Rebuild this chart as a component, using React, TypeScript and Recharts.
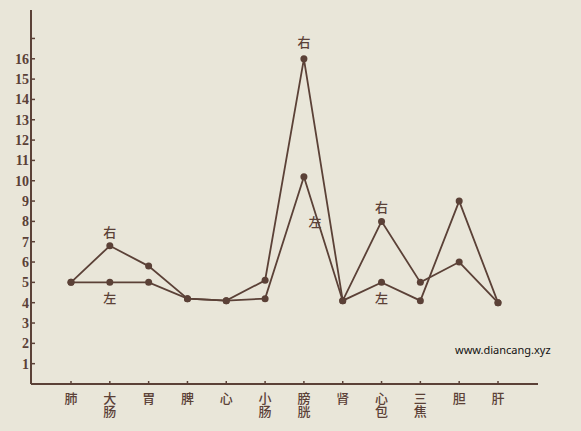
import React from 'react';
import { LineChart, Line, XAxis, YAxis } from 'recharts';

const categories = ['肺', '大肠', '胃', '脾', '心', '小肠', '膀胱', '肾', '心包', '三焦', '胆', '肝'];
const rightValues = [5, 6.8, 5.8, 4.2, 4.1, 5.1, 16, 4.1, 8, 5, 6, 4];
const leftValues = [5, 5, 5, 4.2, 4.1, 4.2, 10.2, 4.1, 5, 4.1, 9, 4];
const yTicks = [1, 2, 3, 4, 5, 6, 7, 8, 9, 10, 11, 12, 13, 14, 15, 16, 17];
const yLabelMax = 16;
const markedCategories = ['大肠', '膀胱', '心包'];

const data = categories.map((name, i) => ({ name, right: rightValues[i], left: leftValues[i] }));

const INK = '#5b4137';
const AXIS_X = 31;
const SERIF = '"Liberation Serif", "DejaVu Serif", serif';
const CJK = '"Noto Sans CJK SC", sans-serif';

function YTick(props: any) {
  const { y, payload } = props;
  return (
    <g>
      <line x1={AXIS_X} x2={AXIS_X + 4} y1={y} y2={y} stroke={INK} strokeWidth={1.5} />
      {payload.value <= yLabelMax && (
        <text x={AXIS_X - 2} y={y} dy='0.36em' textAnchor='end' fill={INK}
          style={{ fontFamily: SERIF, fontSize: 14, fontWeight: 700 }}>
          {payload.value}
        </text>
      )}
    </g>
  );
}

// category names run top to bottom, as in the printed figure
function XTick(props: any) {
  const { x, y, payload } = props;
  return (
    <g>
      <line x1={x} x2={x} y1={y - 3} y2={y} stroke={INK} strokeWidth={1.5} />
      <text x={x} y={y + 8} textAnchor='start' fill={INK}
        style={{ fontFamily: CJK, fontSize: 13, fontWeight: 500, writingMode: 'vertical-rl' }}>
        {payload.value}
      </text>
    </g>
  );
}

function sideLabel(text: string, below: boolean) {
  return (props: any) => {
    const { x, y, index } = props;
    const name = categories[index];
    if (!markedCategories.includes(name)) return null;
    let dx = 0;
    let dy = below ? 21 : -9;
    if (below && name === '膀胱') { dx = 11; dy = 50; }
    if (!below && name === '膀胱') { dy = -12; }
    return (
      <text x={x + dx} y={y + dy} textAnchor='middle' fill={INK}
        style={{ fontFamily: CJK, fontSize: 13, fontWeight: 500 }}>
        {text}
      </text>
    );
  };
}

export default function App() {
  return (
    <div style={{ position: 'absolute', left: 0, top: 0, width: 581, height: 431, background: '#e9e6d9' }}>
      <LineChart width={581} height={431} data={data} margin={{ top: 10, right: 43, bottom: 0, left: 0 }}>
        <XAxis dataKey='name' padding={{ left: 40, right: 40 }} height={47} tickSize={0} tickMargin={0}
          axisLine={{ stroke: INK, strokeWidth: 2 }} tick={<XTick />} interval={0} />
        <YAxis type='number' domain={[0, 18.4]} ticks={yTicks} width={31} tickSize={0} tickMargin={0}
          axisLine={{ stroke: INK, strokeWidth: 2 }} tick={<YTick />} interval={0} allowDataOverflow />
        <Line dataKey='right' stroke={INK} strokeWidth={1.8} isAnimationActive={false}
          dot={{ r: 3.5, fill: INK, stroke: INK, strokeWidth: 0 }} label={sideLabel('右', false)} />
        <Line dataKey='left' stroke={INK} strokeWidth={1.8} isAnimationActive={false}
          dot={{ r: 3.5, fill: INK, stroke: INK, strokeWidth: 0 }} label={sideLabel('左', true)} />
      </LineChart>
      <div style={{ position: 'absolute', left: 455, top: 342, fontFamily: '"Noto Sans", sans-serif', fontSize: 11, color: '#111' }}>
        www.diancang.xyz
      </div>
    </div>
  );
}
